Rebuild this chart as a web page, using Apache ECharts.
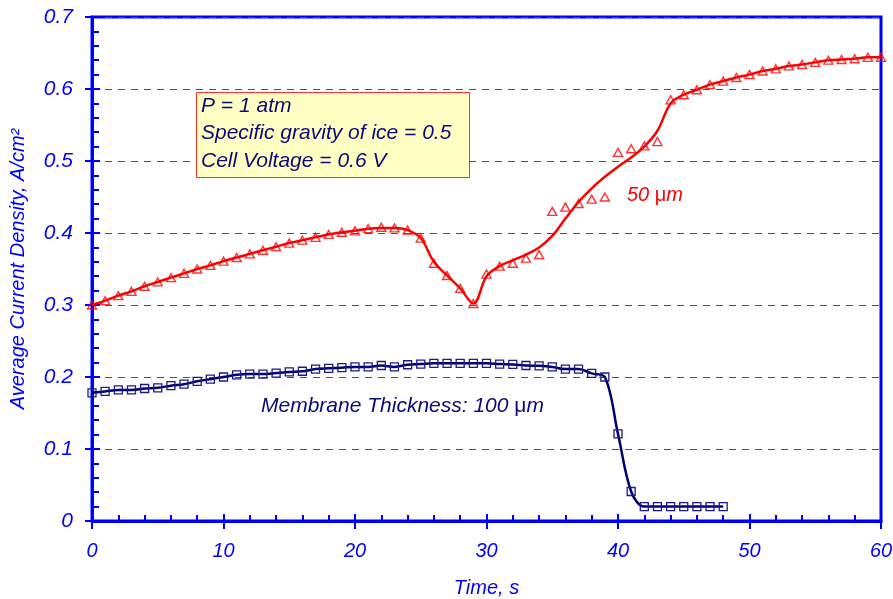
<!DOCTYPE html>
<html>
<head>
<meta charset="utf-8">
<script src="https://cdn.jsdelivr.net/npm/echarts@6/dist/echarts.min.js"></script>
<style>
html,body{margin:0;padding:0;background:#fff;}
#chart{width:893px;height:599px;}
</style>
</head>
<body>
<div id="chart"></div>
<script>
// ---- Data ----
const redTime = [0,1,2,3,4,5,6,7,8,9,10,11,12,13,14,15,16,17,18,19,20,21,22,23,24,25,26,27,28,29,30,31,32,33,34,35,36,37,38,39,40,41,42,43,44,45,46,47,48,49,50,51,52,53,54,55,56,57,58,59,60];
// 50 µm membrane: measured points (triangles)
const redPoints = [0.300,0.306,0.313,0.319,0.326,0.332,0.338,0.344,0.350,0.355,0.361,0.366,0.371,0.376,0.381,0.386,0.390,0.394,0.398,0.401,0.403,0.406,0.408,0.407,0.404,0.393,0.358,0.341,0.323,0.302,0.343,0.354,0.358,0.365,0.370,0.430,0.436,0.441,0.447,0.450,0.512,0.517,0.521,0.527,0.585,0.592,0.599,0.606,0.611,0.616,0.620,0.625,0.628,0.632,0.634,0.637,0.640,0.641,0.642,0.644,0.644];
// 50 µm membrane: fitted curve
const redFit = [0.300,0.306,0.313,0.319,0.326,0.332,0.338,0.344,0.350,0.355,0.361,0.366,0.371,0.376,0.381,0.386,0.390,0.394,0.398,0.401,0.403,0.406,0.407,0.407,0.404,0.393,0.360,0.341,0.323,0.302,0.340,0.354,0.362,0.370,0.380,0.396,0.420,0.443,0.462,0.478,0.492,0.505,0.520,0.542,0.580,0.592,0.599,0.606,0.611,0.616,0.620,0.625,0.628,0.632,0.634,0.637,0.640,0.641,0.642,0.644,0.644];

const blueTime = [0,1,2,3,4,5,6,7,8,9,10,11,12,13,14,15,16,17,18,19,20,21,22,23,24,25,26,27,28,29,30,31,32,33,34,35,36,37,38,39,40,41,42,43,44,45,46,47,48];
// 100 µm membrane
const bluePoints = [0.178,0.180,0.182,0.182,0.184,0.185,0.188,0.190,0.194,0.197,0.200,0.203,0.204,0.204,0.2055,0.207,0.208,0.211,0.212,0.213,0.214,0.214,0.216,0.214,0.217,0.218,0.219,0.219,0.219,0.219,0.219,0.218,0.2175,0.216,0.2155,0.214,0.211,0.211,0.205,0.200,0.121,0.041,0.020,0.020,0.020,0.020,0.020,0.020,0.020];

const xTicks = [0,10,20,30,40,50,60];
const yTicks = [0,0.1,0.2,0.3,0.4,0.5,0.6,0.7];

const annotationLines = ['P = 1 atm','Specific gravity of ice = 0.5','Cell Voltage = 0.6 V'];

// ---- Chart ----
const pair = (xs, ys) => xs.map((x, i) => [x, ys[i]]);
const FONT = 'Liberation Sans, Arial, sans-serif';
const AXIS_BLUE = '#0000FF';

const chart = echarts.init(document.getElementById('chart'), null, {renderer: 'canvas'});

const baseX = {
  type: 'value', min: xTicks[0], max: xTicks[xTicks.length-1], interval: 10,
  gridIndex: 0
};
const baseY = {
  type: 'value', min: yTicks[0], max: yTicks[yTicks.length-1], interval: 0.1,
  gridIndex: 0
};

chart.setOption({
  animation: false,
  backgroundColor: '#ffffff',
  grid: {left: 92, right: 12, top: 17, bottom: 78, containLabel: false, outerBoundsMode: 'none',
         show: true, borderColor: AXIS_BLUE, borderWidth: 3, backgroundColor: 'transparent'},
  xAxis: [
    Object.assign({}, baseX, {
      position: 'bottom',
      name: 'Time, s', nameLocation: 'middle', nameGap: 57,
      nameTextStyle: {color: AXIS_BLUE, fontStyle: 'italic', fontSize: 20, fontFamily: FONT},
      axisLine: {show: true, onZero: false, lineStyle: {color: AXIS_BLUE, width: 3}},
      axisTick: {show: true, inside: true, length: 7, lineStyle: {color: AXIS_BLUE, width: 2}},
      minorTick: {show: true, splitNumber: 5, length: 6, lineStyle: {color: AXIS_BLUE, width: 2}},
      axisLabel: {color: AXIS_BLUE, fontStyle: 'italic', fontSize: 20, fontFamily: FONT, margin: 20},
      splitLine: {show: false}
    }),
    Object.assign({}, baseX, {
      position: 'bottom', offset: 0,
      axisLine: {show: false},
      axisTick: {show: true, inside: false, length: 8, lineStyle: {color: AXIS_BLUE, width: 2}},
      axisLabel: {show: false},
      splitLine: {show: false}
    })
  ],
  yAxis: [
    Object.assign({}, baseY, {
      position: 'left',
      name: 'Average Current Density, A/cm²', nameLocation: 'middle', nameGap: 64,
      nameTextStyle: {color: AXIS_BLUE, fontStyle: 'italic', fontSize: 20, fontFamily: FONT},
      axisLine: {show: true, onZero: false, lineStyle: {color: AXIS_BLUE, width: 3}},
      axisTick: {show: true, inside: true, length: 8, lineStyle: {color: AXIS_BLUE, width: 2}},
      minorTick: {show: true, splitNumber: 5, length: 7, lineStyle: {color: AXIS_BLUE, width: 2}},
      axisLabel: {color: AXIS_BLUE, fontStyle: 'italic', fontSize: 21, fontFamily: FONT, margin: 19},
      splitLine: {show: true, lineStyle: {color: '#3a3aff', width: 1, type: [7, 6]}}
    }),
    Object.assign({}, baseY, {
      position: 'left', offset: 0,
      axisLine: {show: false},
      axisTick: {show: true, inside: false, length: 7, lineStyle: {color: AXIS_BLUE, width: 2}},
      axisLabel: {show: false},
      splitLine: {show: false}
    })
  ],
  series: [
    {
      name: 'fit50', type: 'line', xAxisIndex: 0, yAxisIndex: 0,
      data: pair(redTime, redFit), smooth: 0.35, showSymbol: false, symbol: 'none',
      lineStyle: {color: '#FF0000', width: 2.5}, z: 3
    },
    {
      name: 'pts50', type: 'scatter', xAxisIndex: 0, yAxisIndex: 0,
      data: pair(redTime, redPoints), symbol: 'triangle', symbolSize: [9, 8],
      itemStyle: {color: 'transparent', borderColor: '#FF0000', borderWidth: 1.4}, z: 4
    },
    {
      name: 'mem100', type: 'line', xAxisIndex: 0, yAxisIndex: 0,
      data: pair(blueTime, bluePoints), smooth: 0.35, showSymbol: true, symbol: 'rect', symbolSize: 8,
      lineStyle: {color: '#000070', width: 2.5},
      itemStyle: {color: 'transparent', borderColor: '#1a1a8c', borderWidth: 1.3}, z: 3
    }
  ],
  graphic: [
    {
      type: 'rect', left: 196, top: 92, z: 10,
      shape: {width: 273, height: 85},
      style: {fill: '#FFFFC4', stroke: '#FF3030', lineWidth: 1}
    },
    {
      type: 'text', left: 201, top: 92, z: 11,
      style: {
        text: annotationLines.join('\n'),
        fill: '#0a0a78', font: 'italic 21px ' + FONT, lineHeight: 27.5
      }
    },
    {
      type: 'text', left: 627, top: 185, z: 11,
      style: {
        text: '{i|50 }{u|μ}{i|m}',
        rich: {
          i: {fill: '#FF0000', font: 'italic 20px ' + FONT},
          u: {fill: '#FF0000', font: '20px ' + FONT}
        }
      }
    },
    {
      type: 'text', left: 261, top: 396, z: 11,
      style: {
        text: '{i|Membrane Thickness: 100 }{u|μ}{i|m}',
        rich: {
          i: {fill: '#0a0a78', font: 'italic 21px ' + FONT},
          u: {fill: '#0a0a78', font: '21px ' + FONT}
        }
      }
    }
  ]
});
</script>
</body>
</html>
